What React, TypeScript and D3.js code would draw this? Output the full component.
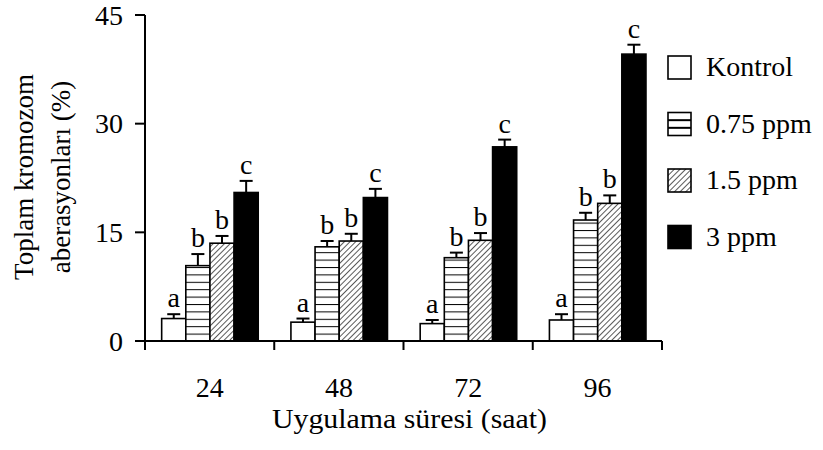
import React from "react";
import * as d3 from "d3";

const categories = ["24", "48", "72", "96"];
const seriesNames = ["Kontrol", "0.75 ppm", "1.5 ppm", "3 ppm"];
const kontrol = [3.1, 2.6, 2.4, 2.9];
const ppm075 = [10.4, 13.0, 11.5, 16.7];
const ppm15 = [13.5, 13.8, 13.9, 19.0];
const ppm3 = [20.5, 19.8, 26.8, 39.6];
const errKontrol = [0.6, 0.5, 0.5, 0.8];
const err075 = [1.6, 0.8, 0.7, 1.0];
const err15 = [1.0, 1.0, 1.0, 1.1];
const err3 = [1.6, 1.2, 1.0, 1.3];
const letters = ["a", "b", "b", "c"];
const yTicks = [0, 15, 30, 45];
const yLabelLines = ["Toplam kromozom", "aberasyonları (%)"];
const xLabel = "Uygulama süresi (saat)";

const W = 823;
const H = 450;
const FONT = "Liberation Serif, Times New Roman, serif";
const FS = 27;
const FSH = 28;

export default function App() {
  const values = [kontrol, ppm075, ppm15, ppm3];
  const errs = [errKontrol, err075, err15, err3];
  const fills = ["#fff", "url(#hstripe)", "url(#diag)", "#000"];

  const left = 145;
  const right = 662;
  const y = d3.scaleLinear().domain([0, 45]).range([341, 15]);
  const x0 = d3.scaleBand<string>().domain(categories).range([left, right]).padding(0);
  const bw = x0.bandwidth();
  const x1 = d3
    .scaleBand<string>()
    .domain(seriesNames)
    .range([bw * 0.129, bw * 0.876])
    .padding(0);
  const barW = x1.bandwidth();
  const y0 = y(0);

  const boundaries = categories.map((c) => x0(c) as number).concat([right]);
  const txt = { fontFamily: FONT, fill: "#000" } as const;

  return (
    <svg
      width={W}
      height={H}
      style={{ position: "absolute", left: 0, top: 0, background: "#fff" }}
    >
      <defs>
        <pattern id="hstripe" patternUnits="userSpaceOnUse" width={10} height={7.4} y={y0}>
          <rect width={10} height={7.4} fill="#fff" />
          <line x1={0} x2={10} y1={0} y2={0} stroke="#000" strokeWidth={2} />
        </pattern>
        <pattern
          id="diag"
          patternUnits="userSpaceOnUse"
          width={4}
          height={4}
          patternTransform="rotate(45)"
        >
          <rect width={4} height={4} fill="#fff" />
          <line x1={0} x2={0} y1={0} y2={4} stroke="#000" strokeWidth={1.3} />
        </pattern>
      </defs>

      {/* bars */}
      {categories.map((c, ci) => (
        <g key={c} transform={`translate(${x0(c)},0)`}>
          {seriesNames.map((s, si) => {
            const v = values[si][ci];
            const e = errs[si][ci];
            const bx = x1(s) as number;
            const cx = bx + barW / 2;
            const top = y(v);
            const et = y(v + e);
            return (
              <g key={s}>
                <line x1={cx} x2={cx} y1={top} y2={et} stroke="#000" strokeWidth={2} />
                <line x1={cx - 6.5} x2={cx + 6.5} y1={et} y2={et} stroke="#000" strokeWidth={2} />
                <rect
                  x={bx}
                  y={top}
                  width={barW}
                  height={y0 - top}
                  fill={fills[si]}
                  stroke="#000"
                  strokeWidth={1.6}
                />
                <text x={cx} y={et - 7} textAnchor="middle" fontSize={FSH} style={txt}>
                  {letters[si]}
                </text>
              </g>
            );
          })}
        </g>
      ))}

      {/* y axis */}
      <line x1={left} x2={left} y1={y(45)} y2={350} stroke="#000" strokeWidth={2} />
      {yTicks.map((t) => (
        <g key={t}>
          <line x1={135} x2={left} y1={y(t)} y2={y(t)} stroke="#000" strokeWidth={2} />
          <text x={123} y={y(t)} dy="0.34em" textAnchor="end" fontSize={FSH} style={txt}>
            {t}
          </text>
        </g>
      ))}

      {/* x axis */}
      <line x1={left} x2={right} y1={y0} y2={y0} stroke="#000" strokeWidth={2} />
      {boundaries.map((b, i) => (
        <line key={i} x1={b} x2={b} y1={y0} y2={350} stroke="#000" strokeWidth={2} />
      ))}
      {categories.map((c) => (
        <text
          key={c}
          x={(x0(c) as number) + bw / 2}
          y={397}
          textAnchor="middle"
          fontSize={FSH}
          style={txt}
        >
          {c}
        </text>
      ))}
      <text
        x={(left + right) / 2 + 6}
        y={428}
        textAnchor="middle"
        fontSize={FSH}
        style={txt}
        textLength={275}
        lengthAdjust="spacingAndGlyphs"
      >
        {xLabel}
      </text>

      {/* y label */}
      {yLabelLines.map((l, i) => (
        <text
          key={i}
          transform={`translate(${33 + i * 37},177) rotate(-90)`}
          textAnchor="middle"
          fontSize={FS}
          style={txt}
        >
          {l}
        </text>
      ))}

      {/* legend */}
      {seriesNames.map((s, i) => {
        const cy = 67 + i * 56.5;
        return (
          <g key={s}>
            <rect
              x={668}
              y={cy - 11}
              width={23}
              height={23}
              fill={i === 1 ? "#fff" : fills[i]}
              stroke="#000"
              strokeWidth={1.6}
            />
            {i === 1 && (
              <g>
                <line x1={668} x2={691} y1={cy - 11 + 23 / 3} y2={cy - 11 + 23 / 3} stroke="#000" strokeWidth={2} />
                <line x1={668} x2={691} y1={cy - 11 + 46 / 3} y2={cy - 11 + 46 / 3} stroke="#000" strokeWidth={2} />
              </g>
            )}
            <text x={706} y={cy + 9} fontSize={FSH} style={txt}>
              {s}
            </text>
          </g>
        );
      })}
    </svg>
  );
}
